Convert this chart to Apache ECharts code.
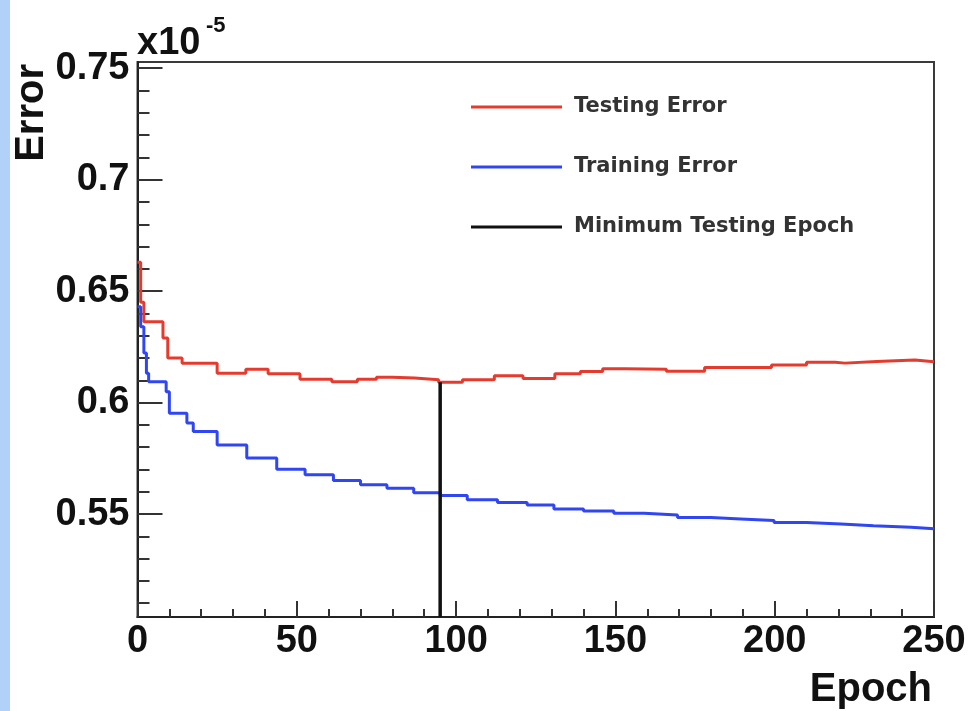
<!DOCTYPE html>
<html>
<head>
<meta charset="utf-8">
<script src="https://cdn.jsdelivr.net/npm/echarts@6.0.0/dist/echarts.min.js"></script>
<style>
html,body{margin:0;padding:0;background:#fff;}
#chart{width:971px;height:711px;}
</style>
</head>
<body>
<div id="chart"></div>
<script>
// ---- data (errors in units of 1e-5) ----
var testEpochs = [0, 1, 2, 8, 9.5, 14, 25, 34, 41, 51, 61, 69, 75, 80, 87, 94.5, 102, 112, 121, 131, 139, 146, 153, 166, 178, 199, 210, 219, 222, 232, 244, 250];
var testValues = [0.663, 0.645, 0.6363, 0.629, 0.620, 0.6177, 0.6132, 0.6150, 0.6129, 0.6105, 0.6094, 0.6105, 0.6114, 0.6110, 0.6102, 0.6091, 0.6102, 0.6120, 0.6108, 0.6129, 0.6139, 0.6152, 0.6150, 0.6140, 0.6157, 0.6169, 0.6181, 0.6177, 0.6184, 0.6191, 0.6183, 0.6183];

var trainEpochs = [0, 1, 2, 2.8, 3.5, 9, 10, 15.5, 17.5, 25, 34.3, 43.7, 52.6, 61.5, 70, 78.3, 86.7, 95, 103.5, 113, 122.3, 130.7, 140, 149.5, 159, 169.5, 180, 189.3, 199.8, 210, 220.8, 231, 242.8, 250];
var trainValues = [0.643, 0.634, 0.6222, 0.6132, 0.6094, 0.6049, 0.5952, 0.5908, 0.5870, 0.5810, 0.5751, 0.5701, 0.5676, 0.5650, 0.5631, 0.5616, 0.5596, 0.5583, 0.5564, 0.5552, 0.5541, 0.5523, 0.5514, 0.5504, 0.5496, 0.5484, 0.5478, 0.5471, 0.5462, 0.5455, 0.5447, 0.5441, 0.5434, 0.5434];

var minLineEpochs = [95, 95];
var minLineValues = [0.5038, 0.6091];

var seriesNames = ['Testing Error', 'Training Error', 'Minimum Testing Epoch'];
var yTickLabels = [0.55, 0.6, 0.65, 0.7, 0.75];
var yMinorTicks = [0.51, 0.52, 0.53, 0.54, 0.56, 0.57, 0.58, 0.59, 0.61, 0.62, 0.63, 0.64, 0.66, 0.67, 0.68, 0.69, 0.71, 0.72, 0.73, 0.74];
var xTickLabels = [0, 50, 100, 150, 200, 250];

// ---- chart ----
var Y_MIN = 0.5038, Y_MAX = 0.7528;
function pairs(xs, ys) { return xs.map(function (x, i) { return [x, ys[i]]; }); }

var chart = echarts.init(document.getElementById('chart'), null, {renderer: 'canvas'});
var tickFont = {fontFamily: 'Liberation Sans', fontWeight: 'bold', fontSize: 38, color: '#111'};

chart.setOption({
  animation: false,
  backgroundColor: '#fff',
  grid: {left: 137.5, right: 37, top: 62, bottom: 94, show: true, borderColor: '#3a3a3a', borderWidth: 2, backgroundColor: 'transparent'},
  legend: {
    data: seriesNames,
    orient: 'vertical',
    left: 466,
    top: 90,
    itemWidth: 91,
    itemHeight: 3,
    itemGap: 36,
    icon: 'rect',
    textStyle: {fontFamily: 'DejaVu Sans', fontWeight: 'bold', fontSize: 21, color: '#333', lineHeight: 24, padding: [0, 0, 0, 7]}
  },
  xAxis: {
    type: 'value', min: 0, max: 250, interval: 50,
    axisLine: {show: true, onZero: false, lineStyle: {color: '#222', width: 2}},
    axisTick: {show: true, inside: true, length: 16, customValues: xTickLabels, lineStyle: {color: '#333', width: 2}},
    minorTick: {show: true, splitNumber: 5, length: 8, lineStyle: {color: '#333', width: 2}},
    axisLabel: Object.assign({margin: 6, customValues: xTickLabels}, tickFont),
    splitLine: {show: false}
  },
  yAxis: [{
    type: 'value', min: Y_MIN, max: Y_MAX,
    axisLine: {show: true, onZero: false, lineStyle: {color: '#222', width: 2}},
    axisTick: {show: true, inside: true, length: 25, customValues: yTickLabels, lineStyle: {color: '#333', width: 2}},
    axisLabel: Object.assign({margin: 8, customValues: yTickLabels, formatter: function (v) { return String(+v.toFixed(2)); }}, tickFont),
    splitLine: {show: false}
  }, {
    type: 'value', min: Y_MIN, max: Y_MAX, position: 'left',
    axisLine: {show: false},
    axisTick: {show: true, inside: true, length: 12, customValues: yMinorTicks, lineStyle: {color: '#333', width: 2}},
    axisLabel: {show: false},
    splitLine: {show: false}
  }],
  series: [{
    name: seriesNames[0], type: 'line', step: 'end', showSymbol: false,
    data: pairs(testEpochs, testValues),
    itemStyle: {color: '#e53b2f'},
    lineStyle: {color: '#e53b2f', width: 3}, z: 3
  }, {
    name: seriesNames[1], type: 'line', step: 'end', showSymbol: false,
    data: pairs(trainEpochs, trainValues),
    itemStyle: {color: '#3046f2'},
    lineStyle: {color: '#3046f2', width: 3}, z: 3
  }, {
    name: seriesNames[2], type: 'line', showSymbol: false,
    data: pairs(minLineEpochs, minLineValues),
    itemStyle: {color: '#111'},
    lineStyle: {color: '#111', width: 3.5}, z: 4
  }],
  graphic: [
    {type: 'rect', left: 0, top: 0, shape: {width: 10, height: 711}, style: {fill: '#b2d1f8'}, silent: true},
    {type: 'text', x: 32, y: 64, rotation: Math.PI / 2, style: {text: 'Error', font: 'bold 40px "Liberation Sans"', fill: '#111', textAlign: 'right', textVerticalAlign: 'middle'}},
    {type: 'text', x: 932, y: 690, style: {text: 'Epoch', font: 'bold 40px "Liberation Sans"', fill: '#111', textAlign: 'right', textVerticalAlign: 'middle'}},
    {type: 'text', x: 137, y: 44, style: {text: 'x10', font: 'bold 38px "Liberation Sans"', fill: '#111', textAlign: 'left', textVerticalAlign: 'middle'}},
    {type: 'text', x: 206, y: 26, style: {text: '-5', font: 'bold 22px "Liberation Sans"', fill: '#111', textAlign: 'left', textVerticalAlign: 'middle'}}
  ]
});
</script>
</body>
</html>
